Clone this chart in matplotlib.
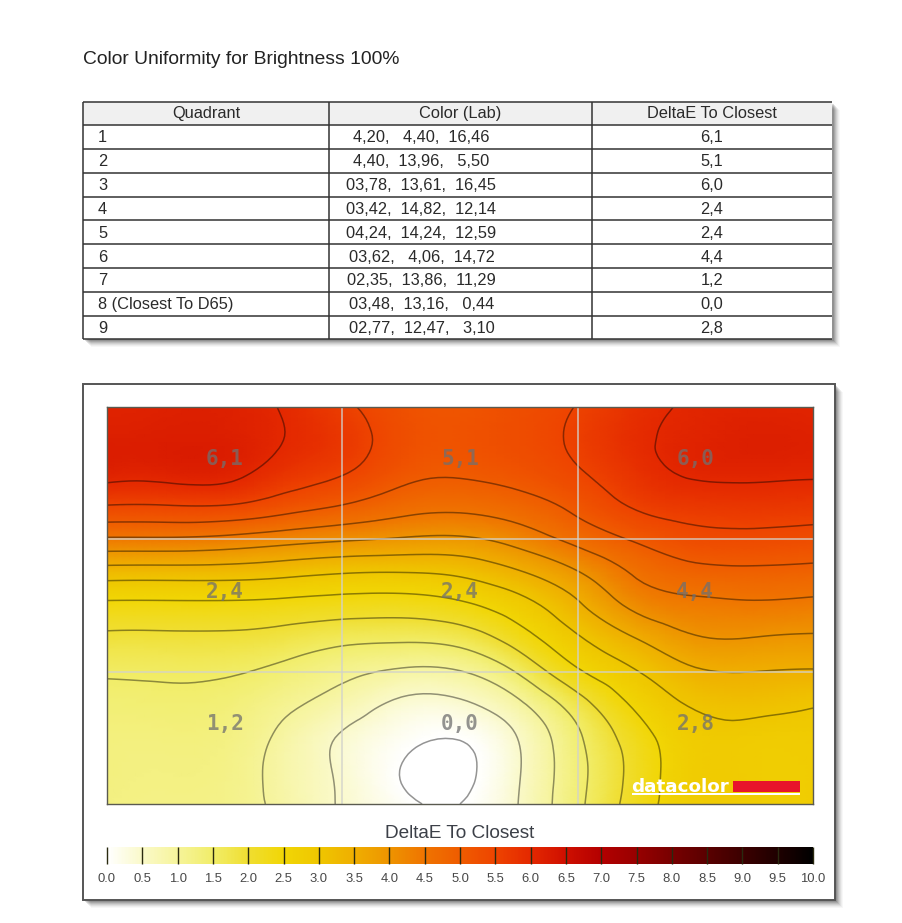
import numpy as np
import matplotlib
matplotlib.use('Agg')
import matplotlib.pyplot as plt
import matplotlib.tri as mtri
from matplotlib.cm import ScalarMappable
from matplotlib.colors import LinearSegmentedColormap, Normalize
from matplotlib.patches import Rectangle

plt.rcParams['font.family'] = ['Liberation Sans', 'DejaVu Sans']

# table contents
table_header = ['Quadrant', 'Color (Lab)', 'DeltaE To Closest']
quadrants = ['1', '2', '3', '4', '5', '6', '7', '8 (Closest To D65)', '9']
lab_values = ['4,20,   4,40,  16,46', '4,40,  13,96,   5,50', '03,78,  13,61,  16,45',
              '03,42,  14,82,  12,14', '04,24,  14,24,  12,59', '03,62,   4,06,  14,72',
              '02,35,  13,86,  11,29', '03,48,  13,16,   0,44', '02,77,  12,47,   3,10']
delta_labels = ['6,1', '5,1', '6,0', '2,4', '2,4', '4,4', '1,2', '0,0', '2,8']

# deltaE, 13 x 13 samples, one row per line from the top
delta_e = np.array([
    [6.10, 6.15, 6.15, 5.97, 5.60, 5.25, 5.15, 5.30, 5.52, 5.85, 6.05, 6.10, 6.08],
    [6.20, 6.22, 6.20, 6.00, 5.72, 5.30, 5.20, 5.32, 5.58, 5.92, 6.10, 6.18, 6.15],
    [6.13, 6.13, 6.13, 5.80, 5.53, 5.15, 5.05, 5.18, 5.45, 5.82, 6.05, 6.08, 6.05],
    [5.47, 5.47, 5.47, 5.22, 4.97, 4.70, 4.62, 4.78, 5.13, 5.55, 5.72, 5.75, 5.72],
    [4.43, 4.43, 4.36, 4.20, 4.06, 3.95, 3.92, 4.20, 4.65, 5.06, 5.33, 5.37, 5.32],
    [3.26, 3.25, 3.24, 3.15, 3.03, 3.00, 3.10, 3.45, 3.97, 4.57, 4.85, 4.90, 4.86],
    [2.40, 2.40, 2.40, 2.35, 2.27, 2.25, 2.40, 2.80, 3.42, 4.13, 4.38, 4.43, 4.38],
    [1.90, 1.90, 1.90, 1.80, 1.63, 1.58, 1.70, 2.25, 2.94, 3.50, 3.95, 3.98, 3.93],
    [1.55, 1.57, 1.55, 1.38, 1.13, 0.93, 0.98, 1.56, 2.43, 2.98, 3.43, 3.50, 3.46],
    [1.38, 1.40, 1.35, 1.10, 0.77, 0.40, 0.41, 0.90, 1.77, 2.59, 3.05, 3.13, 3.03],
    [1.30, 1.30, 1.25, 0.90, 0.45, 0.12, 0.02, 0.52, 1.42, 2.27, 2.82, 2.85, 2.85],
    [1.28, 1.25, 1.20, 0.85, 0.42, -0.01, -0.10, 0.47, 1.35, 2.18, 2.80, 2.80, 2.80],
    [1.25, 1.22, 1.18, 0.88, 0.45, 0.09, 0.00, 0.51, 1.39, 2.23, 2.80, 2.80, 2.80],
])
contour_levels = [0.0, 0.5, 1.0, 1.5, 2.0, 2.5, 3.0, 3.5, 4.0, 4.5, 5.0, 5.5, 6.0]

# colour scale, one colour per 0.5 deltaE
scale_colors = ['#FFFFFF', '#FAF9C8', '#F6F49A', '#F1ED68', '#F0DE30', '#F1D605', '#EFC600',
                '#EFAE00', '#EE9400', '#EF7400', '#EF5C00', '#EE4400', '#E42800', '#CF0F00',
                '#B30000', '#980000', '#780000', '#5A0000', '#3C0000', '#1F0000', '#000000']
scale_ticks = [0.0, 0.5, 1.0, 1.5, 2.0, 2.5, 3.0, 3.5, 4.0, 4.5, 5.0, 5.5, 6.0, 6.5, 7.0,
               7.5, 8.0, 8.5, 9.0, 9.5, 10.0]

W, H = 903, 923
cmap = LinearSegmentedColormap.from_list('delta', scale_colors, N=512)
norm = Normalize(0, 10)


def px_axes(fig, x0, y0, x1, y1):
    # axes from pixel box, y counted from the top
    return fig.add_axes([x0 / W, 1 - y1 / H, (x1 - x0) / W, (y1 - y0) / H])


def shadow(ax, x0, y0, x1, y1):
    for off, a in [(8, 0.03), (7, 0.04), (6, 0.06), (5, 0.07), (4, 0.09), (3, 0.11), (2, 0.13)]:
        ax.add_patch(Rectangle((x0 + off, y0 + off), x1 - x0, y1 - y0, fc='black', ec='none', alpha=a, zorder=1))


fig = plt.figure(figsize=(W / 100, H / 100), dpi=100, facecolor='white')

# page layer in pixel coordinates
page = fig.add_axes([0, 0, 1, 1])
page.set_xlim(0, W)
page.set_ylim(H, 0)
page.axis('off')

page.text(83, 59, 'Color Uniformity for Brightness 100%', fontsize=13.9, color='#222222', ha='left', va='center')

# table
col_x = [83, 329, 592, 832]
row_y = [101.5, 125, 149, 172.7, 196.5, 220, 244, 268, 291.5, 315.5, 339]
text_color = '#2a2a2a'
shadow(page, col_x[0], row_y[0], col_x[-1], row_y[-1])
page.add_patch(Rectangle((col_x[0], row_y[0]), col_x[-1] - col_x[0], row_y[-1] - row_y[0], fc='white', ec='none', zorder=2))
page.add_patch(Rectangle((col_x[0], row_y[0]), col_x[-1] - col_x[0], row_y[1] - row_y[0], fc='#F0F0F0', ec='none', zorder=2))
for y in row_y:
    page.plot([col_x[0], col_x[-1]], [y, y], color='#333333', lw=1.1, zorder=3, solid_capstyle='butt')
for x in col_x[:3]:
    page.plot([x, x], [row_y[0], row_y[-1]], color='#333333', lw=1.1, zorder=3, solid_capstyle='butt')

for i, head in enumerate(table_header):
    page.text((col_x[i] + col_x[i + 1]) / 2, 113.5, head, fontsize=11.8, color=text_color, ha='center', va='center', zorder=4)
for i in range(len(quadrants)):
    yc = (row_y[i + 1] + row_y[i + 2]) / 2 + 1
    page.text(98, yc, quadrants[i], fontsize=11.8, color=text_color, ha='left', va='center', zorder=4)
    page.text(421.5, yc, lab_values[i], fontsize=11.8, color=text_color, ha='center', va='center', zorder=4)
    page.text(712, yc, delta_labels[i], fontsize=11.8, color=text_color, ha='center', va='center', zorder=4)

# panel around map and scale
shadow(page, 83, 384, 835, 900)
page.add_patch(Rectangle((83, 384), 752, 516, fc='white', ec='#555555', lw=1.4, zorder=2))
page.text(460, 833, 'DeltaE To Closest', fontsize=13.7, color='#3c4048', ha='center', va='center', zorder=4)

# map, smoothed by matplotlib's own refiner
ax = px_axes(fig, 107, 407, 813, 804)
rows, cols = delta_e.shape
gx, gy = np.meshgrid(np.arange(cols), np.arange(rows))
tri = mtri.Triangulation(gx.ravel().astype(float), gy.ravel().astype(float))
fine_tri, fine_z = mtri.UniformTriRefiner(tri).refine_field(delta_e.ravel(), subdiv=3)
ax.tripcolor(fine_tri, fine_z, shading='gouraud', cmap=cmap, norm=norm)
ax.tricontour(fine_tri, fine_z, levels=contour_levels, colors='black', linewidths=1.1, alpha=0.42)
ax.set_xlim(0, cols - 1)
ax.set_ylim(rows - 1, 0)
ax.set_xticks([])
ax.set_yticks([])
for s in ax.spines.values():
    s.set_color('#5a5a50')
    s.set_linewidth(1.0)

for v in [4, 8]:
    ax.axvline(v, color='#D2D2CC', lw=1.3, alpha=0.75)
    ax.axhline(v, color='#D2D2CC', lw=1.3, alpha=0.75)

label_x = [2, 6, 10]
label_y = [1.57, 5.6, 9.57]
for i, lab in enumerate(delta_labels):
    ax.text(label_x[i % 3], label_y[i // 3], lab, fontsize=15, fontweight='bold', family='DejaVu Sans Mono',
            color='#707070', alpha=0.75, ha='center', va='center')

# logo in pixel layer on top of the map
logo = fig.add_axes([0, 0, 1, 1])
logo.set_xlim(0, W)
logo.set_ylim(H, 0)
logo.axis('off')
logo.patch.set_alpha(0)
logo.text(631, 786.5, 'datacolor', fontsize=13.2, fontweight='bold', family='DejaVu Sans', color='white', ha='left', va='center')
logo.add_patch(Rectangle((733, 781), 67, 11, fc='#E8142B', ec='none'))
logo.add_patch(Rectangle((632, 793), 168, 1.6, fc='white', ec='none'))

# colour scale
cax = px_axes(fig, 107, 847, 813, 864)
cbar = fig.colorbar(ScalarMappable(norm=norm, cmap=cmap), cax=cax, orientation='horizontal', ticks=scale_ticks, format='%.1f')
cbar.outline.set_visible(False)
cax.tick_params(axis='x', direction='in', length=12.2, width=1.0, color='#2a2a10', pad=6.5, labelsize=9.4, labelcolor='#484848')

fig.savefig('out.png', dpi=100)
